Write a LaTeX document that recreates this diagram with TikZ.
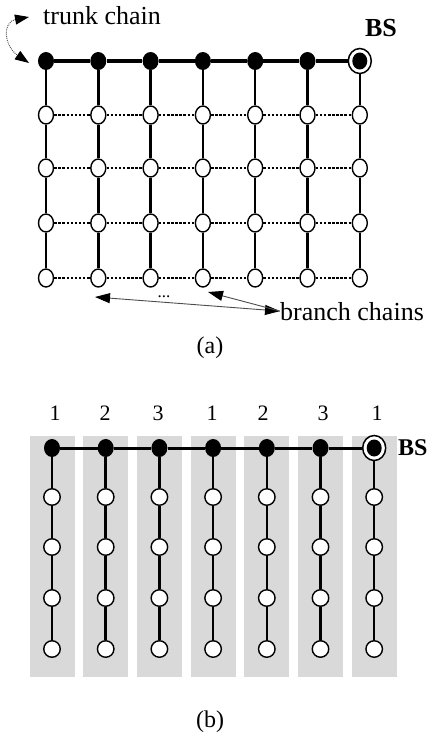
\documentclass[tikz,border=0pt]{standalone}
\usepackage{fontspec}
\setmainfont{Liberation Serif}
\usetikzlibrary{shapes.geometric,arrows.meta}
\pgfdeclarelayer{bg}
\pgfdeclarelayer{edges}
\pgfsetlayers{bg,edges,main}
\begin{document}
\begin{tikzpicture}[x=1pt,y=-1pt,
  blk/.style={ellipse, fill=black, inner sep=0, minimum width=16pt, minimum height=18pt},
  wht/.style={ellipse, draw, fill=white, line width=1.4pt, inner sep=0, minimum width=15pt, minimum height=18pt},
  whtb/.style={circle, draw, fill=white, line width=1.4pt, inner sep=0, minimum size=16.5pt},
  bsnode/.style={ellipse, draw, fill=white, line width=1.5pt, inner sep=0, minimum width=23pt, minimum height=25pt},
  bsin/.style={ellipse, fill=black, inner sep=0, minimum width=15pt, minimum height=17pt},
  lbl/.style={font=\fontsize{26}{30}\selectfont, inner sep=0},
  lblb/.style={font=\fontsize{26}{30}\selectfont\bfseries, inner sep=0},
  captext/.style={font=\fontsize{24}{28}\selectfont, inner sep=0},
  num/.style={font=\fontsize{22}{26}\selectfont, inner sep=0},
  trunkA/.style={line width=4pt},
  trunkB/.style={line width=3pt},
  vertline/.style={line width=2.5pt},
  dotA/.style={line width=1.3pt, dash pattern=on 2.5pt off 1.6pt},
  pointer/.style={line width=0.9pt, black!70},
  rectb/.style={fill=black!15, draw=none, minimum width=45pt, minimum height=241pt, inner sep=0}
]
\useasboundingbox (0,0) rectangle (430,737);

% ---------- (a) ----------
\foreach \i/\x in {0/46,1/98.3,2/150.6,3/202.9,4/255.2,5/307.5}
  \node[blk] (a-\i-0) at (\x,61) {};
\node[bsnode] (a-6-0) at (359.8,61) {};
\node[bsin] (bsa) at (a-6-0) {};
\foreach \i/\x in {0/46,1/98.3,2/150.6,3/202.9,4/255.2,5/307.5,6/359.8}{
  \node[wht] (a-\i-1) at (\x,115) {};
  \node[wht] (a-\i-2) at (\x,168) {};
  \node[wht] (a-\i-3) at (\x,223) {};
  \node[wht] (a-\i-4) at (\x,278) {};
}

\begin{pgfonlayer}{edges}
  \foreach \i/\j in {0/1,1/2,2/3,3/4,4/5,5/6}{
    \draw[trunkA] (a-\i-0) -- (a-\j-0);
    \draw[dotA] (a-\i-1) -- (a-\j-1);
    \draw[dotA] (a-\i-2) -- (a-\j-2);
    \draw[dotA] (a-\i-3) -- (a-\j-3);
    \draw[dotA] (a-\i-4) -- (a-\j-4);
  }
  \foreach \i in {0,1,2,3,4,5,6}{
    \draw[vertline] (a-\i-0) -- (a-\i-1);
    \draw[vertline] (a-\i-1) -- (a-\i-2);
    \draw[vertline] (a-\i-2) -- (a-\i-3);
    \draw[vertline] (a-\i-3) -- (a-\i-4);
  }
\end{pgfonlayer}

\node[lblb] (bsla) at (381,28) {BS};
\node[lbl, anchor=base west] (tc) at (43,24) {trunk chain};
\coordinate (tcA) at (29,17);
\coordinate (tcB) at (29,63);
\draw[pointer, densely dotted, {Triangle[length=14pt,width=10pt,color=black]}-{Triangle[length=14pt,width=10pt,color=black]}]
  (tcA) .. controls (2,22) and (4,46) .. (tcB);

\node[lbl, anchor=base west] (bc) at (280,320) {branch chains};
\coordinate (bl) at (95,297);
\coordinate (bm) at (208,292);
\draw[pointer, {Triangle[length=15pt,width=10pt,color=black]}-{Triangle[length=15pt,width=10pt,color=black]}] (bl) -- (bc.west);
\draw[pointer, {Triangle[length=15pt,width=10pt,color=black]}-] (bm) -- (bc.west);
\node[font=\fontsize{17}{20}\selectfont, inner sep=0, anchor=base] (dots) at (164,297) {...};

\node[captext] (capa) at (210,348) {(a)};

% ---------- (b) ----------
\foreach \i/\x/\d/\nx in {0/52/1/55,1/105.7/2/105,2/159.4/3/158,3/213.1/1/212,4/266.8/2/263,5/320.5/3/323,6/374.2/1/377} {
  \begin{pgfonlayer}{bg}
    \node[rectb] (r-\i) at (\x,556.5) {};
  \end{pgfonlayer}
  \node[num] (n-\i) at (\nx,413) {\d};
}
\foreach \i/\x in {0/52,1/105.7,2/159.4,3/213.1,4/266.8,5/320.5}
  \node[blk] (b-\i-0) at (\x,448) {};
\node[bsnode] (b-6-0) at (374.2,448) {};
\node[bsin] (bsb) at (b-6-0) {};
\foreach \i/\x in {0/52,1/105.7,2/159.4,3/213.1,4/266.8,5/320.5,6/374.2}{
  \node[whtb] (b-\i-1) at (\x,497) {};
  \node[whtb] (b-\i-2) at (\x,547) {};
  \node[whtb] (b-\i-3) at (\x,598) {};
  \node[whtb] (b-\i-4) at (\x,649) {};
}

\begin{pgfonlayer}{edges}
  \foreach \i/\j in {0/1,1/2,2/3,3/4,4/5,5/6}
    \draw[trunkB] (b-\i-0) -- (b-\j-0);
  \foreach \i in {0,1,2,3,4,5,6}{
    \draw[vertline] (b-\i-0) -- (b-\i-1);
    \draw[vertline] (b-\i-1) -- (b-\i-2);
    \draw[vertline] (b-\i-2) -- (b-\i-3);
    \draw[vertline] (b-\i-3) -- (b-\i-4);
  }
\end{pgfonlayer}

\node[lblb, anchor=west, font=\fontsize{24}{28}\selectfont\bfseries] (bslb) at (398,448) {BS};
\node[captext] (capb) at (210,722) {(b)};
\end{tikzpicture}
\end{document}
